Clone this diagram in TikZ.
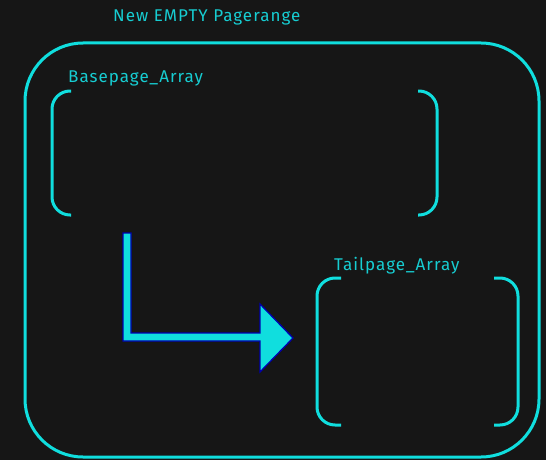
\documentclass[tikz,border=0pt]{standalone}
\usepackage{fontspec}
\setmainfont{Fira Sans}[LetterSpace=6]
\definecolor{bg}{RGB}{22,22,22}
\definecolor{aqua}{RGB}{16,222,222}
\definecolor{label}{RGB}{22,205,210}
\definecolor{edge}{RGB}{0,0,175}
\begin{document}
\begin{tikzpicture}[x=1pt,y=-1pt,
  frame/.style={draw=aqua,line width=3pt,rounded corners=58pt},
  bracket/.style={draw=aqua,line width=3pt,rounded corners=18pt},
  caption/.style={text=label,font=\fontsize{17}{19}\selectfont,inner sep=0pt,anchor=base west},
  flow/.style={fill=aqua,draw=edge,line width=1.3pt,line join=miter}]
  \fill[bg] (0,0) rectangle (546,460);
  \useasboundingbox (0,0) rectangle (546,460);

  % outer page range
  \node[caption] (title) at (113,22) {New EMPTY Pagerange};
  \draw[frame] (25,43) rectangle (539,457);

  % base page array
  \node[caption] (base) at (68,82) {Basepage\_Array};
  \draw[bracket] (71,91) -- (52,91) -- (52,215) -- (71,215);
  \draw[bracket] (418,91) -- (437,91) -- (437,215) -- (418,215);

  % tail page array
  \node[caption] (tail) at (334,270) {Tailpage\_Array};
  \draw[bracket] (341,278) -- (317,278) -- (317,425) -- (341,425);
  \draw[bracket] (494,278) -- (518,278) -- (518,425) -- (494,425);

  % transfer arrow
  \draw[flow] (123,233) -- (131,233) -- (131,333) -- (260,333) -- (260,304)
    -- (293,338) -- (260,372) -- (260,341) -- (123,341) -- cycle;
\end{tikzpicture}
\end{document}
